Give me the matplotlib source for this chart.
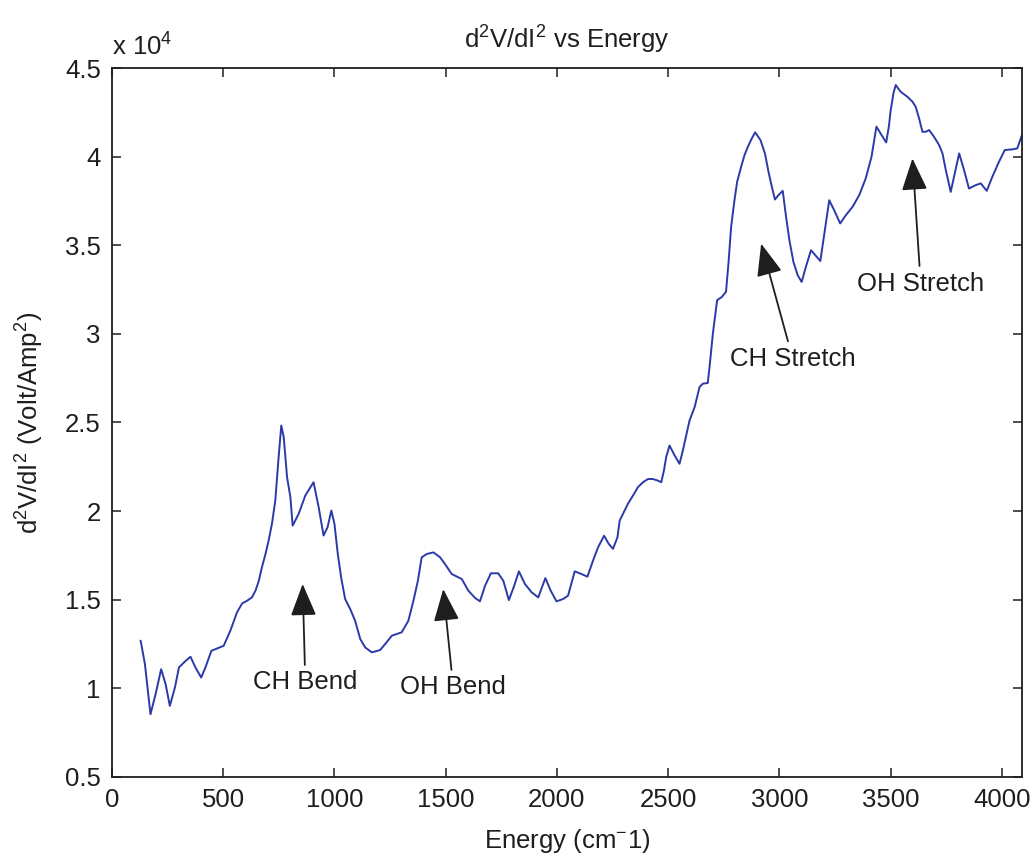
import matplotlib
matplotlib.use("Agg")
import matplotlib.pyplot as plt
from matplotlib.ticker import FuncFormatter, MultipleLocator

plt.rcParams['font.family'] = ['Liberation Sans', 'DejaVu Sans']

# Second-derivative tunneling spectrum (IETS)
energy = [129, 148, 173, 196, 221, 241, 260, 283, 301, 331, 353, 375, 401, 420,
          447, 473, 502, 532, 562, 585, 607, 629, 645, 660, 674, 690, 704, 719,
          734, 749, 761, 772, 787, 802, 812, 839, 869, 906, 929, 951, 969, 986,
          1000, 1015, 1030, 1048, 1071, 1093, 1116, 1138, 1168, 1205, 1228, 1258,
          1302, 1332, 1355, 1375, 1392, 1415, 1445, 1475, 1497, 1527, 1572, 1602,
          1632, 1654, 1677, 1703, 1736, 1759, 1784, 1808, 1829, 1856, 1886, 1916,
          1948, 1972, 1998, 2028, 2050, 2080, 2110, 2137, 2162, 2185, 2212, 2233,
          2252, 2272, 2282, 2297, 2319, 2342, 2364, 2387, 2409, 2431, 2454, 2469,
          2481, 2491, 2506, 2529, 2551, 2566, 2581, 2596, 2619, 2641, 2656, 2678,
          2686, 2701, 2720, 2741, 2760, 2771, 2783, 2798, 2810, 2828, 2843, 2858,
          2876, 2891, 2915, 2935, 2951, 2966, 2980, 2996, 3015, 3030, 3045, 3063,
          3082, 3100, 3119, 3142, 3161, 3184, 3202, 3224, 3246, 3273, 3299, 3329,
          3359, 3388, 3414, 3436, 3450, 3465, 3480, 3492, 3500, 3513, 3523, 3545,
          3575, 3598, 3613, 3628, 3643, 3658, 3673, 3695, 3718, 3733, 3748, 3770,
          3785, 3808, 3830, 3852, 3882, 3905, 3932, 3957, 3987, 4013, 4047, 4069,
          4090]
d2v_di2 = [12680, 11370, 8540, 9670, 11080, 10240, 9010, 10050, 11180, 11550,
           11780, 11180, 10610, 11180, 12120, 12250, 12400, 13250, 14290, 14790,
           14940, 15130, 15510, 16070, 16830, 17580, 18330, 19280, 20590, 23040,
           24830, 24170, 21910, 20780, 19180, 19840, 20880, 21630, 20220, 18620,
           19090, 20030, 19280, 17580, 16260, 15040, 14470, 13810, 12780, 12310,
           12030, 12160, 12500, 12970, 13160, 13810, 14940, 16070, 17390, 17580,
           17670, 17390, 17010, 16450, 16170, 15510, 15100, 14910, 15790, 16490,
           16490, 16070, 14980, 15790, 16600, 15890, 15420, 15130, 16220, 15510,
           14910, 15040, 15230, 16600, 16450, 16300, 17200, 17960, 18610, 18150,
           17870, 18520, 19460, 19840, 20410, 20880, 21350, 21630, 21810, 21810,
           21720, 21630, 22290, 23040, 23700, 23140, 22670, 23420, 24270, 25110,
           25870, 27000, 27190, 27230, 28130, 30020, 31900, 32080, 32370, 33970,
           36040, 37540, 38580, 39430, 40080, 40550, 41030, 41370, 40930, 40180,
           39140, 38300, 37580, 37830, 38070, 36600, 35280, 34060, 33310, 32930,
           33780, 34720, 34440, 34110, 35660, 37540, 36980, 36230, 36700, 37170,
           37830, 38770, 39990, 41690, 41400, 41100, 40800, 41700, 42600, 43600,
           44040, 43660, 43380, 43100, 42800, 42150, 41400, 41400, 41500, 41120,
           40650, 40180, 39240, 38010, 38860, 40180, 39240, 38200, 38390, 38490,
           38070, 38860, 39710, 40370, 40410, 40460, 41200]
y_scale = 1e4

# Peak assignments: (label, arrow tip, label centre)
labels = ['CH Bend', 'OH Bend', 'CH Stretch', 'OH Stretch']
tip_xy = [(857, 15890), (1489, 15600), (2918, 35090), (3598, 39900)]
text_xy = [(869, 10330), (1534, 10050), (3060, 28600), (3635, 32840)]

fs = 18.5
ink = '#1e1e1e'

fig = plt.figure(figsize=(10.34, 8.63), dpi=100)
ax = fig.add_axes([0.1083, 0.0997, 0.880, 0.8215])

ax.plot(energy, [v / y_scale for v in d2v_di2], color='#2b3aa8', lw=1.4)

for lab, tip, txt in zip(labels, tip_xy, text_xy):
    ax.annotate(lab, xy=(tip[0], tip[1] / y_scale),
                xytext=(txt[0], txt[1] / y_scale),
                ha='center', va='center', fontsize=fs, color=ink,
                arrowprops=dict(arrowstyle='-|>,head_length=1.0,head_width=0.4',
                                mutation_scale=20, color=ink, lw=1.3,
                                shrinkA=2, shrinkB=0))

ax.set_xlim(0, 4090)
ax.set_ylim(0.5, 4.5)
ax.xaxis.set_major_locator(MultipleLocator(500))
ax.yaxis.set_major_locator(MultipleLocator(0.5))
ax.yaxis.set_major_formatter(FuncFormatter(lambda v, p: f'{v:g}'))

ax.tick_params(direction='in', length=6.5, width=1.1, color=ink,
               labelsize=fs, labelcolor=ink, pad=8,
               top=True, right=True)
for sp in ax.spines.values():
    sp.set_color(ink)
    sp.set_linewidth(1.3)

ax.set_title(r'd$\mathregular{^2}$V/dI$\mathregular{^2}$ vs Energy',
             fontsize=fs, color=ink, pad=14)
ax.set_xlabel(r'Energy (cm$\mathregular{^{-}}$1)', fontsize=fs, color=ink)
ax.set_ylabel(r'd$\mathregular{^2}$V/dI$\mathregular{^2}$ (Volt/Amp$\mathregular{^2}$)',
              fontsize=fs, color=ink)
ax.xaxis.set_label_coords(0.5, -0.07)
ax.yaxis.set_label_coords(-0.073, 0.5)

ax.text(0.0, 1.01, r'x 10$\mathregular{^4}$', transform=ax.transAxes,
        ha='left', va='bottom', fontsize=fs, color=ink)

fig.savefig('out.png', dpi=100, facecolor='white')
